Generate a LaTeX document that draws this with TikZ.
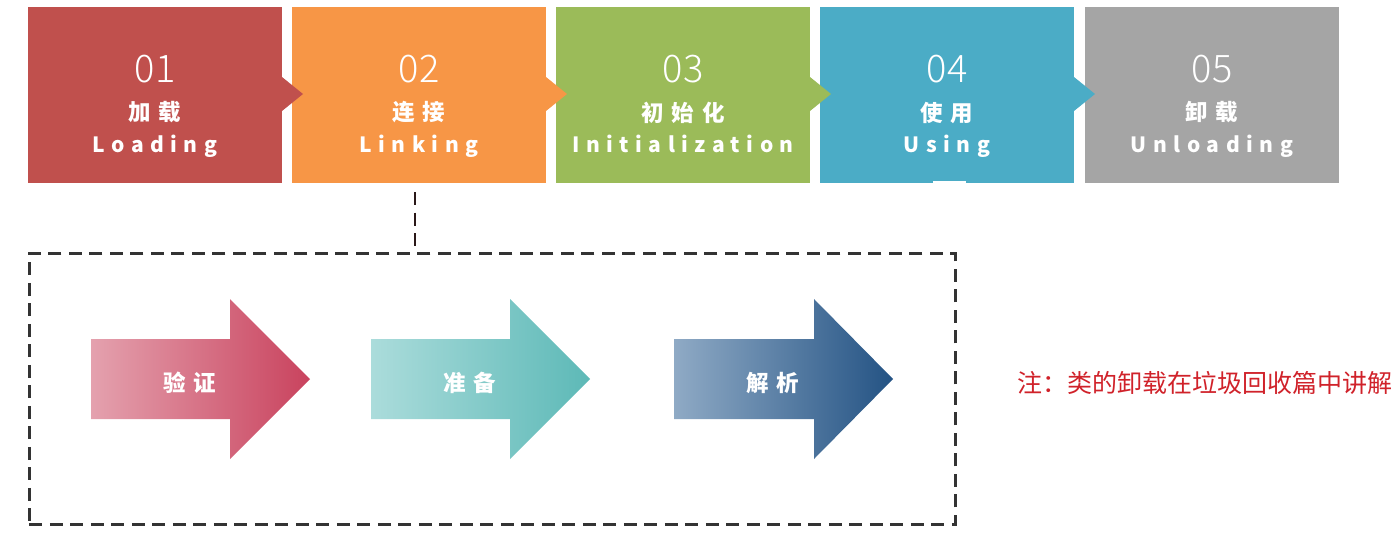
\documentclass[tikz,border=0pt]{standalone}
\usepackage{fontspec}
\newfontfamily\numfont{Noto Sans CJK SC Light}
\newfontfamily\zhfont{Noto Sans CJK SC}[LetterSpace=35]
\newfontfamily\enfont{Noto Sans CJK SC}[LetterSpace=31]
\newfontfamily\notefont{Noto Sans CJK SC}
\definecolor{cA}{HTML}{C0504D}
\definecolor{cB}{HTML}{F79646}
\definecolor{cC}{HTML}{9BBB59}
\definecolor{cD}{HTML}{4BACC6}
\definecolor{cE}{HTML}{A5A5A5}
\definecolor{aAl}{HTML}{E4A1AE}
\definecolor{aAr}{HTML}{C9435E}
\definecolor{aBl}{HTML}{ABDCDB}
\definecolor{aBr}{HTML}{5DB9B7}
\definecolor{aCl}{HTML}{8FAAC5}
\definecolor{aCr}{HTML}{245384}
\definecolor{notered}{HTML}{D0222A}
\definecolor{dashgray}{HTML}{333333}
\definecolor{linkdark}{HTML}{2A1818}
\begin{document}
\begin{tikzpicture}[x=1pt,y=-1pt,
  stage/.style={minimum width=254pt,minimum height=176pt,inner sep=0pt,outer sep=0pt,anchor=north west},
  num/.style={text=white,font=\numfont\fontsize{38}{40}\selectfont,anchor=base,inner sep=0pt},
  zh/.style={text=white,font=\zhfont\bfseries\fontsize{22.5}{24}\selectfont,inner sep=0pt},
  en/.style={text=white,font=\enfont\bfseries\fontsize{21}{24}\selectfont,anchor=base,inner sep=0pt},
  grp/.style={draw=dashgray,line width=2.5pt,dash pattern=on 13pt off 7.5pt},
  conn/.style={draw=linkdark,line width=2.5pt,dash pattern=on 13pt off 7.5pt},
  albl/.style={text=white,font=\zhfont\bfseries\fontsize{22.5}{24}\selectfont,inner sep=0pt},
  note/.style={text=notered,font=\notefont\fontsize{25}{28}\selectfont,anchor=west,inner sep=0pt}]
\useasboundingbox (0,0) rectangle (1397,538);
% stage boxes
\node[stage,fill=cA] (s1) at (28,7) {};
\node[stage,fill=cB] (s2) at (292,7) {};
\node[stage,fill=cC] (s3) at (556,7) {};
\node[stage,fill=cD] (s4) at (820,7) {};
\node[stage,fill=cE] (s5) at (1085,7) {};
% notches
\fill[cA] (282,77) -- (303,94) -- (282,111) -- cycle;
\fill[cB] (546,77) -- (567,94) -- (546,111) -- cycle;
\fill[cC] (810,77) -- (831,94) -- (810,111) -- cycle;
\fill[cD] (1074,77) -- (1095,94) -- (1074,111) -- cycle;
\fill[white] (933,180.5) rectangle (966,186);
% texts
\foreach \i/\n/\z/\e in {1/01/加载/Loading,2/02/连接/Linking,3/03/初始化/Initialization,4/04/使用/Using,5/05/卸载/Unloading}{
  \node[num] (n\i) at (s\i.north |- 0,82) {\n};
  \node[zh] (z\i) at (s\i.north |- 0,112.5) {\z};
  \node[en] (e\i) at (s\i.north |- 0,152) {\e};
}
% group box
\node[grp,minimum width=926pt,minimum height=271pt,inner sep=0pt,anchor=north west] (lg) at (28,252) {};
\coordinate (cs) at (415,192);
\draw[conn] (cs) -- (cs |- lg.north);
% arrows
\shade[left color=aAl,right color=aAr] (91,339) -- (230,339) -- (230,299) -- (310,379) -- (230,459) -- (230,419) -- (91,419) -- cycle;
\shade[left color=aBl,right color=aBr] (371,339) -- (510,339) -- (510,299) -- (590,379) -- (510,459) -- (510,419) -- (371,419) -- cycle;
\shade[left color=aCl,right color=aCr] (674,339) -- (814,339) -- (814,299) -- (893,379) -- (814,459) -- (814,419) -- (674,419) -- cycle;
\node[albl] (v1) at (190,383) {验证};
\node[albl] (v2) at (470,383) {准备};
\node[albl] (v3) at (773,383) {解析};
% note
\node[note] (nt) at (1017,383) {注：类的卸载在垃圾回收篇中讲解};
\end{tikzpicture}
\end{document}
